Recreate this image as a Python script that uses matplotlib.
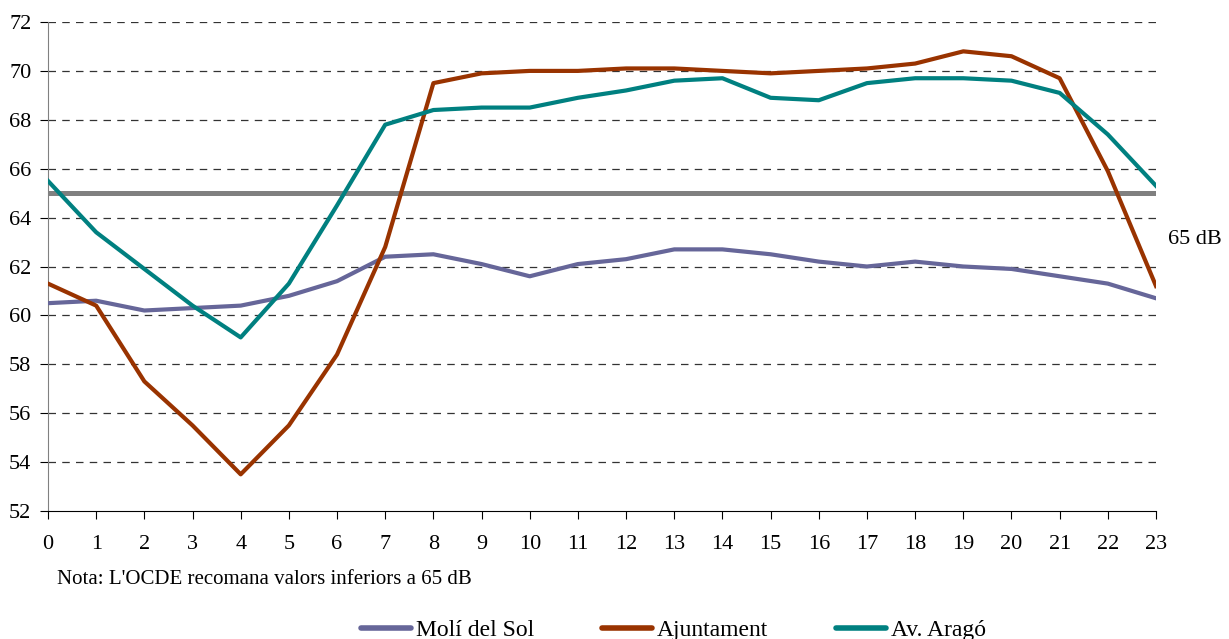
import numpy as np
import matplotlib
matplotlib.use("Agg")
import matplotlib.pyplot as plt

plt.rcParams['font.family'] = ['Liberation Serif', 'DejaVu Serif']

hours = list(range(24))
moli = [60.5, 60.6, 60.2, 60.3, 60.4, 60.8, 61.4, 62.4, 62.5, 62.1, 61.6, 62.1,
        62.3, 62.7, 62.7, 62.5, 62.2, 62.0, 62.2, 62.0, 61.9, 61.6, 61.3, 60.7]
ajuntament = [61.3, 60.4, 57.3, 55.5, 53.5, 55.5, 58.4, 62.8, 69.5, 69.9, 70.0, 70.0,
              70.1, 70.1, 70.0, 69.9, 70.0, 70.1, 70.3, 70.8, 70.6, 69.7, 65.9, 61.2]
arago = [65.5, 63.4, 61.9, 60.4, 59.1, 61.3, 64.5, 67.8, 68.4, 68.5, 68.5, 68.9,
         69.2, 69.6, 69.7, 68.9, 68.8, 69.5, 69.7, 69.7, 69.6, 69.1, 67.4, 65.3]
limit = 65
yticks = list(range(52, 73, 2))

fig = plt.figure(figsize=(12.29, 6.39), dpi=100)
ax = fig.add_axes([48/1229, 1 - 511/639, (1156-48)/1229, (511-22)/639])

for y in yticks[1:]:
    ax.axhline(y, color='#333333', lw=0.9, ls=(0, (6, 5)), zorder=1)

ax.axhline(limit, color='#808080', lw=3.6, zorder=2)
ax.plot(hours, moli, color='#666699', lw=3, label='Molí del Sol', zorder=3)
ax.plot(hours, ajuntament, color='#993300', lw=3, label='Ajuntament', zorder=3)
ax.plot(hours, arago, color='#008080', lw=3, label='Av. Aragó', zorder=3)

ax.set_xlim(0, 23)
ax.set_ylim(52, 72)
ax.set_xticks(hours)
ax.set_yticks(yticks)
ax.tick_params(labelsize=16, direction='out', length=6, colors='black')
ax.tick_params(axis='x', pad=11)
ax.tick_params(axis='y', pad=6)
for s in ['top', 'right']:
    ax.spines[s].set_visible(False)
ax.spines['left'].set_color('#808080')
ax.spines['bottom'].set_color('black')

fig.text(1168/1229, 1 - 240/639, '65 dB', fontsize=16, va='center', ha='left')
fig.text(57/1229, 1 - 580/639, "Nota: L'OCDE recomana valors inferiors a 65 dB",
         fontsize=15, va='center', ha='left')

leg = fig.legend(loc='center', bbox_to_anchor=(0.548, 1 - 630/639), ncol=3, frameon=False,
                 fontsize=17, handlelength=2.1, columnspacing=2.9, handletextpad=0.2)
for line in leg.get_lines():
    line.set_linewidth(4)
    line.set_solid_capstyle('round')

fig.savefig('out.png', dpi=100)
